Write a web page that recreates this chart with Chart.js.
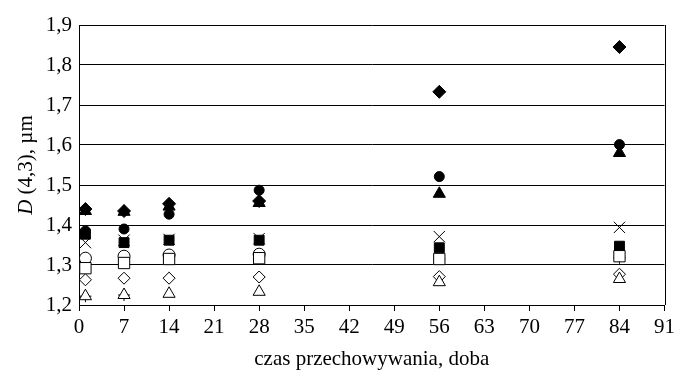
<!DOCTYPE html>
<html>
<head>
<meta charset="utf-8">
<script src="https://cdn.jsdelivr.net/npm/chart.js@4"></script>
<style>
  body { margin: 0; background: #fff; }
  #wrap { width: 679px; height: 372px; }
</style>
</head>
<body>
<div id="wrap"><canvas id="myChart"></canvas></div>
<script>
// storage time, days
const days = [1, 7, 14, 28, 56, 84];

// D(4,3) values, um
const filledDiamond  = [1.440, 1.435, 1.453, 1.460, 1.733, 1.845];
const filledTriangle = [1.435, 1.433, 1.446, 1.455, 1.478, 1.580];
const filledCircle   = [1.385, 1.390, 1.427, 1.487, 1.521, 1.601];
const filledSquare   = [1.377, 1.356, 1.362, 1.362, 1.343, 1.347];
const crossX         = [1.356, 1.362, 1.364, 1.366, 1.371, 1.394];
const openCircle     = [1.317, 1.322, 1.325, 1.327, null, null];
const openSquare     = [1.292, 1.305, 1.315, 1.317, 1.315, 1.322];
const plusMark       = [1.222, 1.225, 1.268, 1.270, 1.315, 1.318];
const openDiamond    = [1.263, 1.267, 1.267, 1.270, 1.271, 1.277];
const openTriangle   = [1.222, 1.225, 1.228, 1.233, 1.257, 1.265];

const xTicks = [0, 7, 14, 21, 28, 35, 42, 49, 56, 63, 70, 77, 84, 91];
const yTicks = [1.2, 1.3, 1.4, 1.5, 1.6, 1.7, 1.8, 1.9];

const serif = "'Liberation Serif', 'Times New Roman', serif";

function series(label, values, style, radius, filled) {
    return {
        label: label,
        data: values.map((v, i) => ({ x: days[i], y: v })),
        pointStyle: style,
        pointRadius: radius,
        pointHoverRadius: radius,
        pointBackgroundColor: filled ? '#000' : '#fff',
        pointBorderColor: '#000',
        pointBorderWidth: 1,
        showLine: false
    };
}

const datasets = [
    series('open triangle', openTriangle, 'triangle', 7, false),
    series('open diamond', openDiamond, 'rectRot', 6, false),
    series('open square', openSquare, 'rect', 8, false),
    series('plus', plusMark, 'cross', 6, false),
    series('open circle', openCircle, 'circle', 6, false),
    series('cross', crossX, 'crossRot', 8, false),
    series('filled square', filledSquare, 'rect', 7, true),
    series('filled circle', filledCircle, 'circle', 5, true),
    series('filled triangle', filledTriangle, 'triangle', 7, true),
    series('filled diamond', filledDiamond, 'rectRot', 6.5, true)
];

// frame on the right and the y title with italic D
const decor = {
    id: 'decor',
    afterDraw(chart) {
        const ctx = chart.ctx;
        const a = chart.chartArea;
        ctx.save();
        ctx.strokeStyle = '#000';
        ctx.lineWidth = 1;
        ctx.beginPath();
        ctx.moveTo(Math.round(a.right) + 0.5, a.top);
        ctx.lineTo(Math.round(a.right) + 0.5, a.bottom);
        ctx.stroke();

        ctx.translate(26, (a.top + a.bottom) / 2);
        ctx.rotate(-Math.PI / 2);
        ctx.fillStyle = '#000';
        ctx.textBaseline = 'middle';
        const fi = 'italic 21px ' + serif;
        const fn = '21px ' + serif;
        ctx.font = fi;
        const w1 = ctx.measureText('D').width;
        ctx.font = fn;
        const rest = ' (4,3), µm';
        const w2 = ctx.measureText(rest).width;
        let x0 = -(w1 + w2) / 2;
        ctx.font = fi;
        ctx.fillText('D', x0, 0);
        ctx.font = fn;
        ctx.fillText(rest, x0 + w1, 0);
        ctx.restore();
    }
};

const chart = new Chart(document.getElementById('myChart'), {
    type: 'scatter',
    data: { datasets: datasets },
    options: {
        responsive: true,
        maintainAspectRatio: false,
        animation: false,
        layout: { padding: { top: 25, right: 12, left: 0, bottom: 0 } },
        plugins: {
            legend: { display: false },
            tooltip: { enabled: false }
        },
        scales: {
            x: {
                type: 'linear',
                min: 0,
                max: 91,
                afterBuildTicks: axis => { axis.ticks = xTicks.map(v => ({ value: v })); },
                afterFit: axis => { axis.height = 67; },
                border: { display: true, color: '#000', width: 1 },
                grid: { drawOnChartArea: false, drawTicks: true, tickLength: 6, color: '#000' },
                ticks: { color: '#000', font: { family: serif, size: 21 }, padding: 4, maxRotation: 0 },
                title: {
                    display: true,
                    text: 'czas przechowywania, doba',
                    color: '#000',
                    font: { family: serif, size: 21 },
                    padding: { top: 2, bottom: 0 }
                }
            },
            y: {
                type: 'linear',
                min: 1.2,
                max: 1.9,
                afterBuildTicks: axis => { axis.ticks = yTicks.map(v => ({ value: v })); },
                afterFit: axis => { axis.width = 79; },
                border: { display: true, color: '#000', width: 1 },
                grid: { color: '#000', lineWidth: 1, drawTicks: false },
                ticks: {
                    color: '#000',
                    font: { family: serif, size: 21 },
                    padding: 7,
                    callback: v => v.toFixed(1).replace('.', ',')
                }
            }
        }
    },
    plugins: [decor]
});
</script>
</body>
</html>
